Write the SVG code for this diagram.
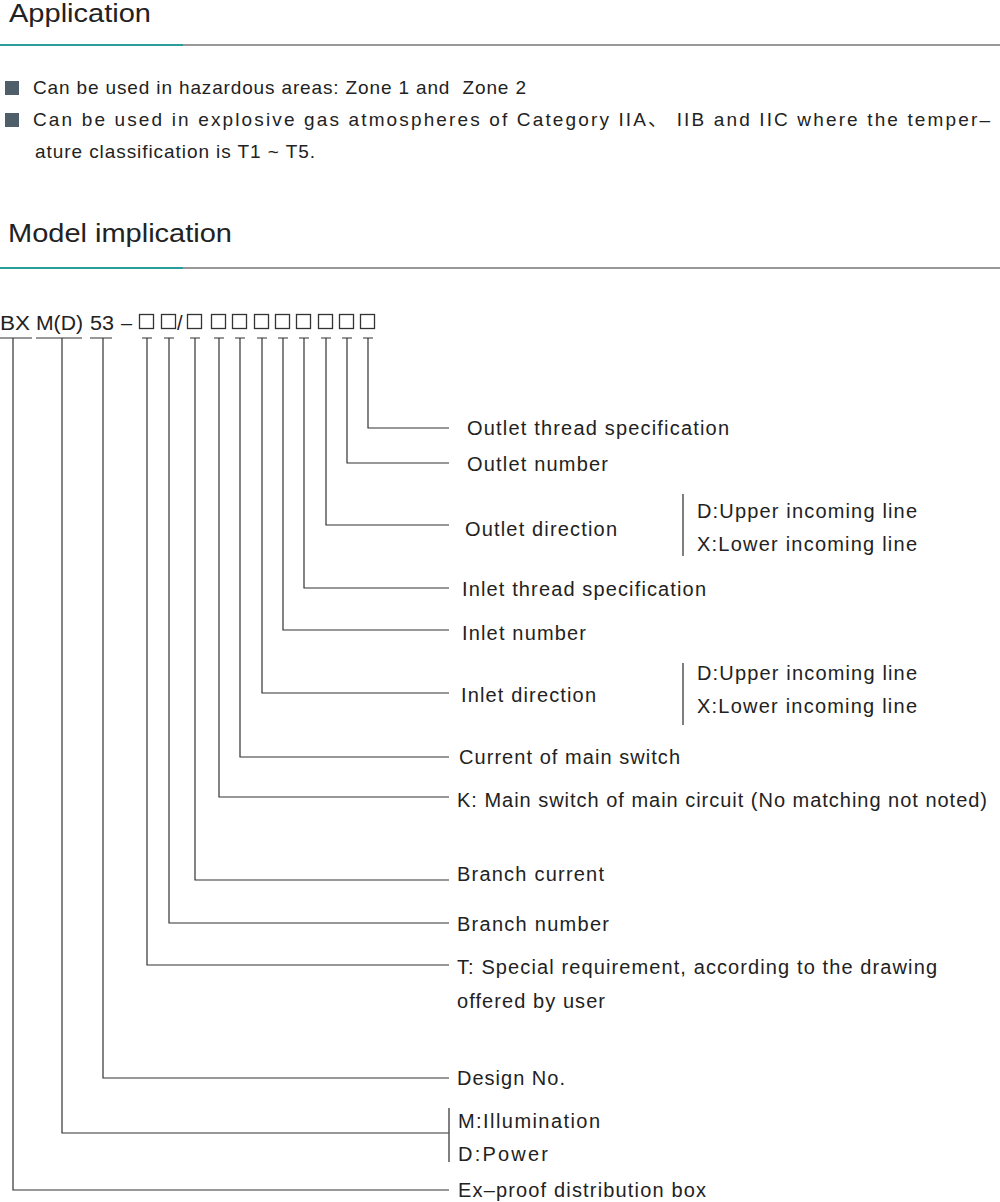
<svg xmlns="http://www.w3.org/2000/svg" width="1000" height="1202" viewBox="0 0 1000 1202">
<style>
text{font-family:"Liberation Sans",Arial,"Noto Sans CJK SC",sans-serif;fill:#222}
.h{font-size:26px}
.b{font-size:19px}
.l{font-size:20px}
.c{font-size:20px}
.ln{stroke:#333;stroke-width:1.2;fill:none}
.br{stroke:#555;stroke-width:1.5;fill:none}
.bx{stroke:#333;stroke-width:1.3;fill:none}
</style>
<rect width="1000" height="1202" fill="#fff"/>
<g id="hdr-application">
<text class="h" x="9" y="22" textLength="142" lengthAdjust="spacingAndGlyphs">Application</text>
<line x1="0" y1="45" x2="183" y2="45" stroke="#2a9d9b" stroke-width="2"/>
<line x1="183" y1="45" x2="1000" y2="45" stroke="#999" stroke-width="2"/>
</g>
<g id="bullets">
<rect x="5" y="81" width="14" height="14" fill="#4f5f6a"/>
<text class="b" x="33" y="94" textLength="493" lengthAdjust="spacing">Can be used in hazardous areas: Zone 1 and&#160; Zone 2</text>
<rect x="5" y="113" width="14" height="14" fill="#4f5f6a"/>
<text class="b" x="33" y="126" textLength="957" lengthAdjust="spacing">Can be used in explosive gas atmospheres of Category IIA、 IIB and IIC where the temper–</text>
<text class="b" x="35" y="158" textLength="280" lengthAdjust="spacing">ature classification is T1 ~ T5.</text>
</g>
<g id="hdr-model">
<text class="h" x="8" y="242" textLength="224" lengthAdjust="spacingAndGlyphs">Model implication</text>
<line x1="0" y1="268" x2="183" y2="268" stroke="#2a9d9b" stroke-width="2"/>
<line x1="183" y1="268" x2="1000" y2="268" stroke="#999" stroke-width="2"/>
</g>
<g id="code">
<text class="c" x="0" y="330" textLength="30" lengthAdjust="spacingAndGlyphs">BX</text>
<text class="c" x="36" y="330" textLength="47" lengthAdjust="spacingAndGlyphs">M(D)</text>
<text class="c" x="90" y="330" textLength="24" lengthAdjust="spacingAndGlyphs">53</text>
<text class="c" x="121" y="330">–</text>
<rect class="bx" x="139.5" y="314.5" width="14" height="14"/>
<rect class="bx" x="161.5" y="314.5" width="14" height="14"/>
<text class="c" x="177" y="330">/</text>
<rect class="bx" x="187.5" y="314.5" width="14" height="14"/>
<rect class="bx" x="211.5" y="314.5" width="14" height="14"/>
<rect class="bx" x="232.5" y="314.5" width="14" height="14"/>
<rect class="bx" x="254.5" y="314.5" width="14" height="14"/>
<rect class="bx" x="275.5" y="314.5" width="14" height="14"/>
<rect class="bx" x="296.5" y="314.5" width="14" height="14"/>
<rect class="bx" x="318.5" y="314.5" width="14" height="14"/>
<rect class="bx" x="339.5" y="314.5" width="14" height="14"/>
<rect class="bx" x="360.5" y="314.5" width="14" height="14"/>
</g>
<g id="connectors">
<path class="ln" d="M0 338H32M36 338H82M90 338H112"/>
<path class="ln" d="M142 338H152M164 338H174M190 338H200M214 338H224M235 338H245M257 338H267M278 338H288M299 338H309M321 338H331M342 338H352M363 338H373"/>
<path class="ln" d="M368 338V428H449"/>
<path class="ln" d="M347 338V463H449"/>
<path class="ln" d="M326 338V525H449"/>
<path class="ln" d="M304 338V588H449"/>
<path class="ln" d="M283 338V630H449"/>
<path class="ln" d="M262 338V693H449"/>
<path class="ln" d="M240 338V757H449"/>
<path class="ln" d="M219 338V797H449"/>
<path class="ln" d="M195 338V880H449"/>
<path class="ln" d="M169 338V923H449"/>
<path class="ln" d="M147 338V965H449"/>
<path class="ln" d="M103 338V1078H449"/>
<path class="ln" d="M62 338V1133H449"/>
<path class="ln" d="M13 338V1190H449"/>
</g>
<g id="n-outlet-thread"><text class="l" x="467" y="435" textLength="262" lengthAdjust="spacing">Outlet thread specification</text></g>
<g id="n-outlet-number"><text class="l" x="467" y="471" textLength="141" lengthAdjust="spacing">Outlet number</text></g>
<g id="n-outlet-direction">
<text class="l" x="465" y="536" textLength="152" lengthAdjust="spacing">Outlet direction</text>
<line class="br" x1="683" y1="494" x2="683" y2="556"/>
<text class="l" x="697" y="518" textLength="220" lengthAdjust="spacing">D:Upper incoming line</text>
<text class="l" x="697" y="551" textLength="220" lengthAdjust="spacing">X:Lower incoming line</text>
</g>
<g id="n-inlet-thread"><text class="l" x="462" y="596" textLength="244" lengthAdjust="spacing">Inlet thread specification</text></g>
<g id="n-inlet-number"><text class="l" x="462" y="640" textLength="124" lengthAdjust="spacing">Inlet number</text></g>
<g id="n-inlet-direction">
<text class="l" x="461" y="702" textLength="135" lengthAdjust="spacing">Inlet direction</text>
<line class="br" x1="683" y1="663" x2="683" y2="725"/>
<text class="l" x="697" y="680" textLength="220" lengthAdjust="spacing">D:Upper incoming line</text>
<text class="l" x="697" y="713" textLength="220" lengthAdjust="spacing">X:Lower incoming line</text>
</g>
<g id="n-current-main"><text class="l" x="459" y="764" textLength="221" lengthAdjust="spacing">Current of main switch</text></g>
<g id="n-main-switch"><text class="l" x="457" y="807" textLength="530" lengthAdjust="spacing">K: Main switch of main circuit (No matching not noted)</text></g>
<g id="n-branch-current"><text class="l" x="457" y="881" textLength="147" lengthAdjust="spacing">Branch current</text></g>
<g id="n-branch-number"><text class="l" x="457" y="931" textLength="152" lengthAdjust="spacing">Branch number</text></g>
<g id="n-special">
<text class="l" x="457" y="974" textLength="480" lengthAdjust="spacing">T: Special requirement, according to the drawing</text>
<text class="l" x="457" y="1008" textLength="148" lengthAdjust="spacing">offered by user</text>
</g>
<g id="n-design"><text class="l" x="457" y="1085" textLength="108" lengthAdjust="spacing">Design No.</text></g>
<g id="n-type">
<line class="br" x1="449" y1="1108" x2="449" y2="1162"/>
<text class="l" x="458" y="1128" textLength="142" lengthAdjust="spacing">M:Illumination</text>
<text class="l" x="458" y="1161" textLength="90" lengthAdjust="spacing">D:Power</text>
</g>
<g id="n-box"><text class="l" x="458" y="1197" textLength="248" lengthAdjust="spacing">Ex–proof distribution box</text></g>
</svg>
